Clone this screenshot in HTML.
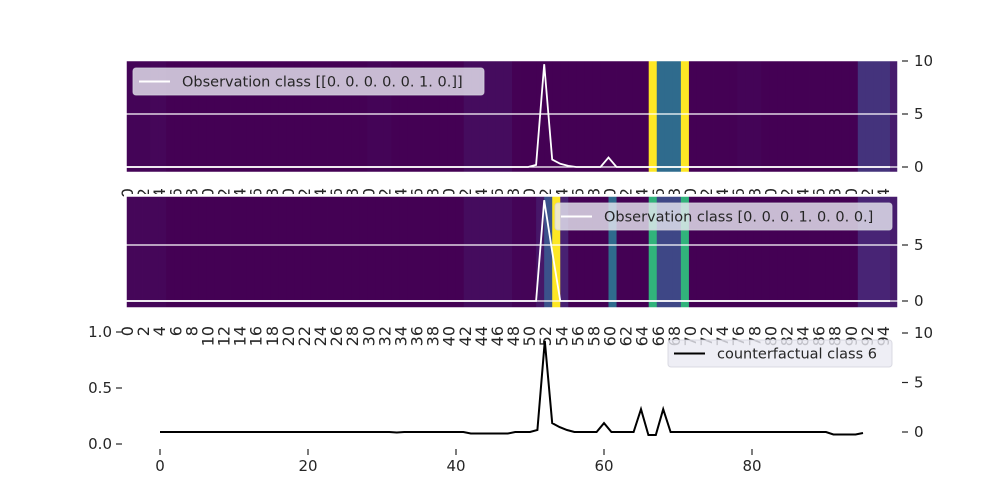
<!DOCTYPE html>
<html><head><meta charset="utf-8">
<style>
html,body{margin:0;padding:0;background:#fff;}
svg{display:block;font-family:"DejaVu Sans","Liberation Sans",sans-serif;}
</style></head>
<body>
<svg id="chart" width="1000" height="500" viewBox="0 0 1000 500"></svg>
<script>
// ---- data ----
const heat1 = [0.01,0.01,0.01,0.02,0.02,0,0,0,0,0,0,0,0,0,0,0,0,0,0,0,0,0,0,0,0,0,0,0,0,0,0.01,0.01,0.01,0,0,0,0,0,0,0,0,0,0.04,0.04,0.04,0.04,0.04,0.04,0,0,0,0,0,0,0,0,0,0,0,0,0,0,0,0,0,1,0.35,0.35,0.35,1,0,0,0,0,0,0,0.01,0.01,0.01,0,0,0,0,0,0,0,0,0,0,0,0,0.17,0.17,0.17,0.17,0.1];
const heat2 = [0.02,0.02,0.02,0.02,0.02,0,0,0,0,0,0,0,0,0,0,0,0,0,0,0,0,0,0,0,0,0,0,0,0,0,0,0,0,0,0,0,0,0,0,0,0,0,0.04,0.04,0.04,0.04,0.04,0.04,0.01,0.01,0.01,0.08,0.25,1,0.12,0,0,0,0,0,0.35,0,0,0,0,0.65,0.22,0.22,0.22,0.65,0,0,0,0,0,0,0,0,0,0,0,0,0,0,0,0,0,0,0,0,0,0.13,0.13,0.13,0.13,0.1];
const obs1 = [0,0,0,0,0,0,0,0,0,0,0,0,0,0,0,0,0,0,0,0,0,0,0,0,0,0,0,0,0,0,0,0,0,0,0,0,0,0,0,0,0,0,0,0,0,0,0,0,0,0,0,0.2,9.7,0.7,0.3,0.1,0,0,0,0,0.9,0,0,0,0,0,0,0,0,0,0,0,0,0,0,0,0,0,0,0,0,0,0,0,0,0,0,0,0,0,0,0,0,0,0,0];
const obs2 = [0,0,0,0,0,0,0,0,0,0,0,0,0,0,0,0,0,0,0,0,0,0,0,0,0,0,0,0,0,0,0,0,0,0,0,0,0,0,0,0,0,0,0,0,0,0,0,0,0,0,0,0,9.0,4.4,0,0,0,0,0,0,0,0,0,0,0,0,0,0,0,0,0,0,0,0,0,0,0,0,0,0,0,0,0,0,0,0,0,0,0,0,0,0,0,0,0,0];
const cf = [0,0,0,0,0,0,0,0,0,0,0,0,0,0,0,0,0,0,0,0,0,0,0,0,0,0,0,0,0,0,0,0,-0.05,0,0,0,0,0,0,0,0,0,-0.15,-0.15,-0.15,-0.15,-0.15,-0.15,0,0,0,0.2,9.2,0.9,0.5,0.2,0,0,0,0,0.9,0,0,0,0,2.3,-0.3,-0.3,2.3,0,0,0,0,0,0,0,0,0,0,0,0,0,0,0,0,0,0,0,0,0,0,-0.25,-0.25,-0.25,-0.25,-0.1];
const heatTicks = [0,2,4,6,8,10,12,14,16,18,20,22,24,26,28,30,32,34,36,38,40,42,44,46,48,50,52,54,56,58,60,62,64,66,68,70,72,74,76,78,80,82,84,86,88,90,92,94];
const topYTicks = [0,5,10];
const row2YTicks = [0,5];
const bottomXTicks = [0,20,40,60,80];
const leftYTicks = [0.0,0.5,1.0];
const rightYTicks = [0,5,10];

// ---- scales ----
const X0 = 126, X1 = 898, N = 96, CW = (X1 - X0) / N;
const hx = i => X0 + i * CW;
const y1 = v => 167 - v * 10.6;
const y2 = v => 301 - v * 11.2;
const bx = v => 160 + v * 7.4;
const by = v => 432 - v * 9.9;
const ly = v => 444 - v * 112;

const stops = [[0,[68,1,84]],[0.13,[72,36,117]],[0.25,[59,82,139]],[0.38,[44,114,142]],[0.5,[33,145,140]],[0.63,[40,174,128]],[0.75,[94,201,98]],[0.88,[170,220,50]],[1,[253,231,37]]];
function viridis(t){
  for(let k=1;k<stops.length;k++){
    if(t<=stops[k][0]){
      const a=stops[k-1],b=stops[k],f=(t-a[0])/(b[0]-a[0]);
      const c=a[1].map((v,j)=>Math.round(v+(b[1][j]-v)*f));
      return `rgb(${c[0]},${c[1]},${c[2]})`;
    }
  }
  return 'rgb(253,231,37)';
}
const svg = document.getElementById('chart');
const NS = 'http://www.w3.org/2000/svg';
function mk(tag, attrs, parent){
  const e = document.createElementNS(NS, tag);
  for (const k in attrs) e.setAttribute(k, attrs[k]);
  (parent||svg).appendChild(e);
  return e;
}
function linePath(arr, fx, fy){ return arr.map((v,i)=>(i?'L':'M')+fx(i).toFixed(1)+','+fy(v).toFixed(1)).join(''); }

function heatRow(vals, top, bottom, name){
  const g = mk('g', {});
  
  
  mk('rect',{x:X0-2,y:top-2,width:X1-X0+4,height:bottom-top+4,fill:'#fff'},g);
  vals.forEach((v,i)=>{
    const r = mk('rect', {x:hx(i).toFixed(2), y:top, width:(CW+0.4).toFixed(2), height:bottom-top, fill:viridis(v)}, g);
    
    
  });
  return g;
}
function xLabels(top, name){
  const g = mk('g', {'font-size':'16', fill:'#262626'});
  
  
  heatTicks.forEach(t=>{
    const x = hx(t) + 1;
    const tx = mk('text', {x:0, y:0, transform:`translate(${x+6},${top}) rotate(-90)`, 'text-anchor':'end'}, g);
    tx.textContent = t;
    
    
  });
}
function rightTicks(ticks, fy, name){
  const g = mk('g', {'font-size':'15', fill:'#262626'});
  
  
  ticks.forEach(t=>{
    mk('line',{x1:902,x2:908,y1:fy(t),y2:fy(t),stroke:'#262626','stroke-width':1.2},g);
    const tx = mk('text',{x:914,y:fy(t)+5},g);
    tx.textContent = t;
    
    
  });
}
function legend(x, y, w, txt, lineColor, name){
  const g = mk('g', {});
  
  
  mk('rect',{x:x,y:y,width:w,height:27,rx:3,fill:'rgba(234,234,242,0.8)',stroke:'rgba(210,210,220,0.8)'},g);
  mk('line',{x1:x+6,x2:x+37,y1:y+13.5,y2:y+13.5,stroke:lineColor,'stroke-width':2},g);
  const tx = mk('text',{x:x+49,y:y+18.5,'font-size':'14.5',fill:'#262626'},g);
  tx.textContent = txt;
}

// ---- Row 1 ----
heatRow(heat1, 61, 173, 'heatmap-top');
[y1(0), y1(5)].forEach(y=>mk('line',{x1:X0,x2:X1,y1:y,y2:y,stroke:'#fff','stroke-width':1.2}));
mk('rect',{x:X0,y:60.5,width:X1-X0,height:112,fill:'none',stroke:'#fff','stroke-width':1.5});
const l1 = mk('path',{d:linePath(obs1,hx,y1),fill:'none',stroke:'#fff','stroke-width':1.8});


legend(133, 68, 351, 'Observation class [[0. 0. 0. 0. 0. 1. 0.]]', '#fff', 'legend-top');
rightTicks(topYTicks, y1, 'right-y-axis-top');
xLabels(188, 'x-tick-labels-top');

// ---- Row 2 (covers top labels) ----
heatRow(heat2, 196, 308, 'heatmap-middle');
[y2(0), y2(5)].forEach(y=>mk('line',{x1:X0,x2:X1,y1:y,y2:y,stroke:'#fff','stroke-width':1.2}));
mk('rect',{x:X0,y:196,width:X1-X0,height:112,fill:'none',stroke:'#fff','stroke-width':1.5});
const l2 = mk('path',{d:linePath(obs2,hx,y2),fill:'none',stroke:'#fff','stroke-width':1.8});


legend(555, 203, 337, 'Observation class [0. 0. 0. 1. 0. 0. 0.]', '#fff', 'legend-middle');
rightTicks(row2YTicks, y2, 'right-y-axis-middle');
xLabels(326, 'x-tick-labels-middle');

// ---- Row 3 ----
const gl = mk('g',{'font-size':'15',fill:'#262626'});


leftYTicks.forEach(t=>{
  mk('line',{x1:116,x2:122,y1:ly(t),y2:ly(t),stroke:'#262626','stroke-width':1.2},gl);
  const tx = mk('text',{x:112,y:ly(t)+5,'text-anchor':'end'},gl);
  tx.textContent = t.toFixed(1);
});
const gx = mk('g',{'font-size':'15',fill:'#262626'});


bottomXTicks.forEach(t=>{
  mk('line',{x1:bx(t),x2:bx(t),y1:449,y2:455,stroke:'#262626','stroke-width':1.2},gx);
  const tx = mk('text',{x:bx(t),y:471,'text-anchor':'middle'},gx);
  tx.textContent = t;
});
rightTicks(rightYTicks, by, 'right-y-axis-bottom');
const l3 = mk('path',{d:linePath(cf,bx,by),fill:'none',stroke:'#000','stroke-width':2});


legend(668, 340, 224, 'counterfactual class 6', '#000', 'legend-bottom');
</script>
</body></html>
